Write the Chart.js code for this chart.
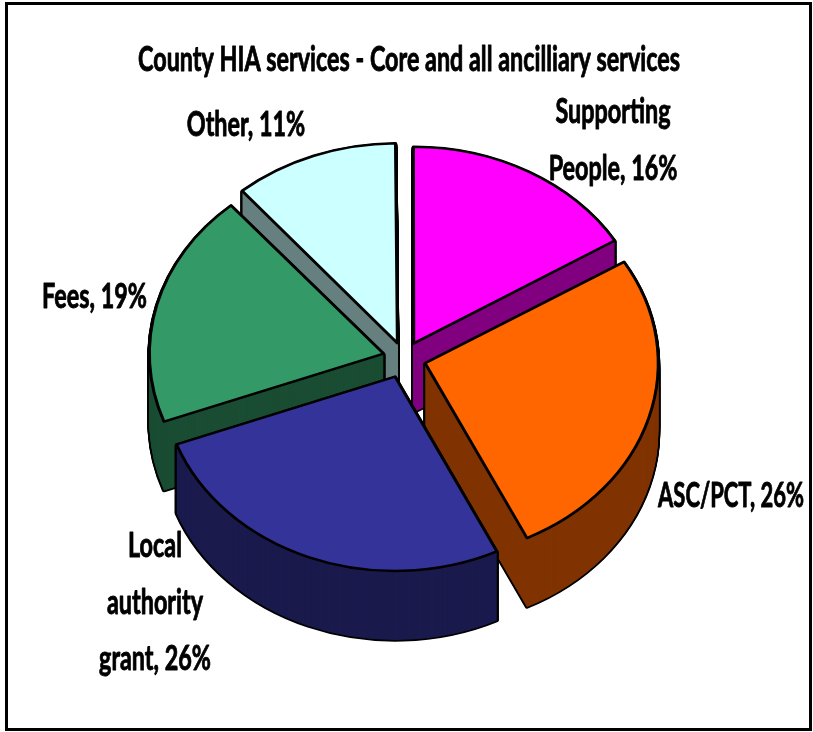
<!DOCTYPE html>
<html>
<head>
<meta charset="utf-8">
<title>County HIA services</title>
<script src="https://cdn.jsdelivr.net/npm/chart.js@4"></script>
<style>
  html, body { margin: 0; padding: 0; background: #fff; }
  #wrap { position: relative; width: 813px; height: 732px; }
</style>
</head>
<body>
<div id="wrap"><canvas id="pie" width="813" height="732"></canvas></div>
<script>
// Funding sources, clockwise from twelve o'clock
const categories = ['Supporting People', 'ASC/PCT', 'Local authority grant', 'Fees', 'Other'];
const shares = [16, 26, 26, 19, 11];
const faceColours = ['#ff00ff', '#ff6600', '#333399', '#339966', '#ccffff'];
const wallColours = ['#800080', '#803300', '#1a1a4d', '#1a4d33', '#668080'];
const explode = [80, 88, 96, 84, 76];

const titleText = 'County HIA services - Core and all ancilliary services';
const labelFont = 'bold 34px Lato, "Liberation Sans", sans-serif';
const titleWidth = 542;

// Wrapped label lines, with the centre x and first baseline of each block
const labelLines = [
  ['Supporting', 'People, 16%'],
  ['ASC/PCT, 26%'],
  ['Local', 'authority', 'grant, 26%'],
  ['Fees, 19%'],
  ['Other, 11%']
];
const labelAnchors = [[613, 123], [731, 507], [155, 557], [94.5, 308], [246, 136]];
const labelNarrowing = [1, 0.94, 1, 1, 1];
const labelLeading = 56.5;

// Painter's order for the tilted solid: back slices first
const paintOrder = [4, 0, 3, 1, 2];
const TILT = 0.834;
const DEPTH = 69;

function withOptions(arc, extra, fn) {
  const saved = arc.options;
  arc.options = Object.assign({}, saved, extra);
  fn();
  arc.options = saved;
}

function tilted(ctx, arc, dy, fn) {
  ctx.save();
  ctx.translate(0, dy);
  ctx.translate(arc.x, arc.y);
  ctx.scale(1, TILT);
  ctx.translate(-arc.x, -arc.y);
  fn();
  ctx.restore();
}

const solidPie = {
  id: 'solidPie',
  beforeDatasetsDraw(chart) {
    const ctx = chart.ctx;
    const arcs = chart.getDatasetMeta(0).data;
    paintOrder.forEach(i => {
      const arc = arcs[i];
      // silhouette of the extruded wall, outlined first, then filled over
      withOptions(arc, { backgroundColor: '#000', borderColor: '#000', borderWidth: 4 }, () => {
        for (let d = DEPTH; d >= 1; d -= 1) tilted(ctx, arc, d, () => arc.draw(ctx));
      });
      withOptions(arc, { backgroundColor: wallColours[i], borderColor: wallColours[i], borderWidth: 0 }, () => {
        for (let d = DEPTH; d >= 1; d -= 1) tilted(ctx, arc, d, () => arc.draw(ctx));
      });
      // top face
      tilted(ctx, arc, 0, () => arc.draw(ctx));
    });
    return false;
  }
};

// Narrowed, slightly emboldened text for the heading and the labels
function squeezedText(ctx, text, x, y, squeeze) {
  ctx.save();
  ctx.translate(x, y);
  ctx.scale(squeeze, 1);
  ctx.fillText(text, 0, 0);
  ctx.strokeText(text, 0, 0);
  ctx.restore();
}

const pageFrameAndLabels = {
  id: 'pageFrameAndLabels',
  beforeDraw(chart) {
    const ctx = chart.ctx;
    ctx.save();
    ctx.fillStyle = '#fff';
    ctx.fillRect(0, 0, chart.width, chart.height);
    ctx.strokeStyle = '#000';
    ctx.lineWidth = 3;
    ctx.strokeRect(6.5, 3.5, 804, 726);
    ctx.restore();
  },
  afterDraw(chart) {
    const ctx = chart.ctx;
    ctx.save();
    ctx.font = labelFont;
    ctx.fillStyle = '#000';
    ctx.strokeStyle = '#000';
    ctx.lineWidth = 0.9;
    ctx.lineJoin = 'round';
    ctx.textAlign = 'center';
    ctx.textBaseline = 'alphabetic';
    const squeeze = titleWidth / ctx.measureText(titleText).width;
    squeezedText(ctx, titleText, 409, 71, squeeze);
    labelLines.forEach((lines, i) => {
      lines.forEach((line, j) => {
        squeezedText(ctx, line, labelAnchors[i][0], labelAnchors[i][1] + j * labelLeading, squeeze * labelNarrowing[i]);
      });
    });
    ctx.restore();
  }
};

new Chart(document.getElementById('pie'), {
  type: 'pie',
  data: {
    labels: categories,
    datasets: [{
      data: shares,
      backgroundColor: faceColours,
      borderColor: '#000',
      borderWidth: 3,
      borderJoinStyle: 'round',
      offset: explode
    }]
  },
  options: {
    responsive: false,
    animation: false,
    radius: 233,
    rotation: -0.2,
    layout: { padding: { left: 0, right: 5, top: 0, bottom: 16 } },
    plugins: {
      legend: { display: false },
      tooltip: { enabled: false },
      title: { display: false, text: titleText }
    }
  },
  plugins: [pageFrameAndLabels, solidPie]
});
</script>
</body>
</html>
